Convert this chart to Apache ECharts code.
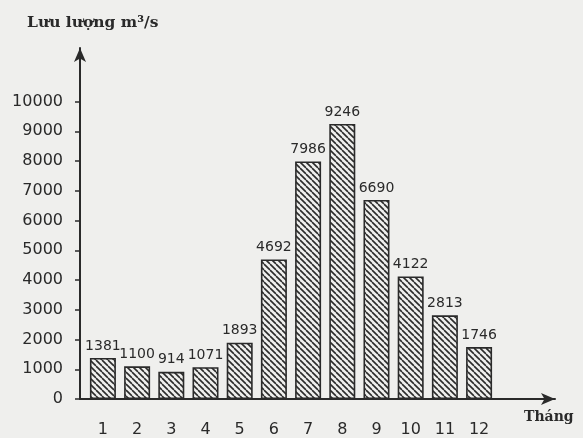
<!DOCTYPE html>
<html>
<head>
<meta charset="utf-8">
<script src="https://cdn.jsdelivr.net/npm/echarts@6/dist/echarts.min.js"></script>
<style>
html,body{margin:0;padding:0;background:#efefed;}
#chart{width:583px;height:438px;}
</style>
</head>
<body>
<div id="chart"></div>
<script>
var months = [1, 2, 3, 4, 5, 6, 7, 8, 9, 10, 11, 12];
var flow = [1381, 1100, 914, 1071, 1893, 4692, 7986, 9246, 6690, 4122, 2813, 1746];
var yTicks = [0, 1000, 2000, 3000, 4000, 5000, 6000, 7000, 8000, 9000, 10000];
var yTitle = 'Lưu lượng m³/s';
var xTitle = 'Tháng';

function hatch() {
  var s = 6;
  var c = document.createElement('canvas');
  c.width = s; c.height = s;
  var g = c.getContext('2d');
  g.fillStyle = '#efefed';
  g.fillRect(0, 0, s, s);
  g.strokeStyle = '#2b2b2b';
  g.lineWidth = 1.6;
  for (var k = -1; k <= 1; k++) {
    g.beginPath();
    g.moveTo(k * s, 0);
    g.lineTo(k * s + s, s);
    g.stroke();
  }
  return c;
}

var chart = echarts.init(document.getElementById('chart'));
chart.setOption({
  backgroundColor: '#efefed',
  animation: false,
  grid: {left: 80, right: 28, top: 48, bottom: 36},
  title: {
    text: yTitle, left: 22, top: 10,
    textStyle: {fontFamily: 'DejaVu Serif', fontWeight: 'bold', fontSize: 15.5, color: '#2a2a2a'}
  },
  graphic: [{
    type: 'text', left: 524, top: 410,
    style: {text: xTitle, fontFamily: 'DejaVu Serif', fontWeight: 'bold', fontSize: 14, fill: '#2a2a2a'}
  }],
  xAxis: {
    type: 'value', min: 0.33, max: 14.22,
    splitLine: {show: false},
    axisTick: {show: false},
    axisLine: {show: true, symbol: ['none', 'arrow'], symbolSize: [9, 14], lineStyle: {color: '#2a2a2a', width: 2}},
    axisLabel: {customValues: months, margin: 23, fontFamily: 'DejaVu Sans', fontSize: 16, color: '#2a2a2a',
      formatter: function (v) { return String(v); }}
  },
  yAxis: {
    type: 'value', min: 0, max: 11800, interval: 1000,
    splitLine: {show: false},
    axisLine: {show: true, symbol: ['none', 'arrow'], symbolSize: [9, 14], lineStyle: {color: '#2a2a2a', width: 2}},
    axisTick: {show: true, customValues: yTicks, length: 5, lineStyle: {color: '#2a2a2a', width: 1.5}},
    axisLabel: {customValues: yTicks, margin: 17, fontFamily: 'DejaVu Sans', fontSize: 16, color: '#2a2a2a',
      formatter: function (v) { return String(v); }}
  },
  series: [{
    type: 'bar',
    barWidth: 26,
    data: months.map(function (m, i) { return [m, flow[i]]; }),
    itemStyle: {
      color: {image: hatch(), repeat: 'repeat'},
      borderColor: '#2a2a2a', borderWidth: 1.6
    },
    label: {
      show: true, position: 'top', distance: 5,
      formatter: function (p) { return String(p.value[1]); },
      fontFamily: 'DejaVu Sans', fontSize: 14, color: '#2a2a2a'
    }
  }]
});
</script>
</body>
</html>
